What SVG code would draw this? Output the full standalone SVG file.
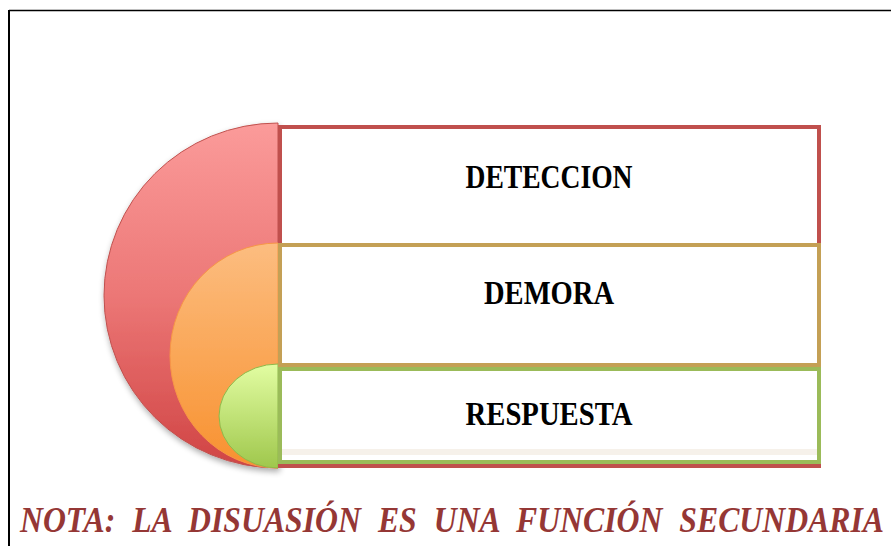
<svg xmlns="http://www.w3.org/2000/svg" width="891" height="546" viewBox="0 0 891 546">
<defs>
<linearGradient id="gr" x1="0" y1="0" x2="0" y2="1"><stop offset="0" stop-color="#fb9b9a"/><stop offset="0.5" stop-color="#ec7776"/><stop offset="1" stop-color="#d04444"/></linearGradient>
<linearGradient id="go" x1="0" y1="0" x2="0" y2="1"><stop offset="0" stop-color="#fcbd80"/><stop offset="1" stop-color="#f8912f"/></linearGradient>
<linearGradient id="gg" x1="0" y1="0" x2="0" y2="1"><stop offset="0" stop-color="#e2fda2"/><stop offset="1" stop-color="#9fc74c"/></linearGradient>
<filter id="sh" x="-20%" y="-20%" width="140%" height="140%"><feGaussianBlur in="SourceAlpha" stdDeviation="3"/><feOffset dx="1" dy="3"/><feComponentTransfer><feFuncA type="linear" slope="0.35"/></feComponentTransfer><feMerge><feMergeNode/><feMergeNode in="SourceGraphic"/></feMerge></filter>
</defs>
<style>
.lbl{font-family:"Liberation Serif","Times New Roman",serif;font-weight:bold;font-size:33px;fill:#000;text-anchor:middle}
.note{font-family:"Liberation Serif","Times New Roman",serif;font-weight:bold;font-style:italic;font-size:35px;fill:#953735;word-spacing:10px}
.box{fill:#fff;stroke-width:4}
</style>
<rect width="891" height="546" fill="#fff"/>
<g id="frame" fill="none" stroke="#000">
<line x1="9" y1="10.5" x2="891" y2="10.5" stroke-width="1.5"/>
<line x1="9" y1="10" x2="9" y2="546" stroke-width="2"/>
</g>
<g id="arcs" filter="url(#sh)">
<path d="M278,123 A174,172.5 0 0 0 278,468 Z" fill="url(#gr)" stroke="#c0504d" stroke-width="1"/>
<path d="M278,243 A108,112.5 0 0 0 278,468 Z" fill="url(#go)" stroke="#f79646" stroke-width="1"/>
<path d="M278,364 A59,52 0 0 0 278,468 Z" fill="url(#gg)" stroke="#8fb84a" stroke-width="1"/>
</g>
<g id="n1">
<rect class="box" x="280" y="127" width="539" height="339" stroke="#c0504d"/>
<text class="lbl" x="549" y="188" textLength="167" lengthAdjust="spacingAndGlyphs">DETECCION</text>
</g>
<g id="n2">
<rect class="box" x="280" y="245" width="539" height="120" stroke="#c4a055"/>
<text class="lbl" x="549" y="304" textLength="130" lengthAdjust="spacingAndGlyphs">DEMORA</text>
</g>
<g id="n3">
<rect class="box" x="280" y="369" width="539" height="93" stroke="#9bbb59"/>
<rect x="282" y="449" width="535" height="6" fill="#f6f1ea"/>
<text class="lbl" x="549" y="425" textLength="167" lengthAdjust="spacingAndGlyphs">RESPUESTA</text>
</g>
<g id="note">
<text class="note" x="20" y="532" textLength="864" lengthAdjust="spacingAndGlyphs">NOTA: LA DISUASIÓN ES UNA FUNCIÓN SECUNDARIA</text>
</g>
</svg>
